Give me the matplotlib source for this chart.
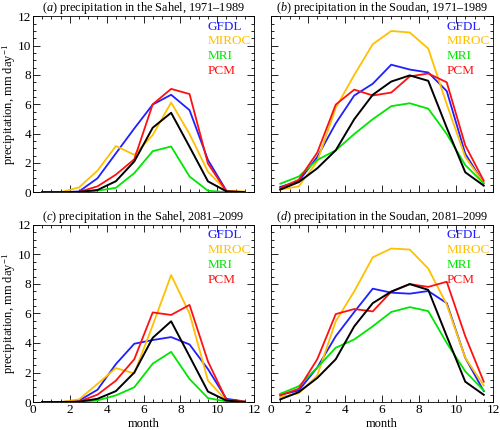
# -*- coding: utf-8 -*-
# curvas_precipitacion.py
import numpy as np
import matplotlib.pyplot as plt
from matplotlib.ticker import MultipleLocator

# --- 1. Datos (mm/día, medias mensuales) ---
meses = [0.5, 1.5, 2.5, 3.5, 4.5, 5.5, 6.5, 7.5, 8.5, 9.5, 10.5, 11.5]
modelos = ['GFDL', 'MIROC', 'MRI', 'PCM']

# (a) Sahel 1971-1989
gfdl_a = [0, 0, 0.05, 0.95, 2.65, 4.35, 5.98, 6.65, 5.6, 2.2, 0.1, 0]
miroc_a = [0, 0, 0.33, 1.47, 3.15, 2.55, 3.9, 6.12, 3.97, 1.4, 0.1, 0.05]
mri_a = [0, 0, 0, 0.1, 0.3, 1.3, 2.8, 3.12, 1.07, 0.1, 0, 0]
pcm_a = [0, 0, 0.02, 0.4, 1.2, 2.25, 6.0, 7.05, 6.7, 1.95, 0.07, 0]
obs_a = [0, 0, 0.02, 0.15, 0.75, 2.1, 4.4, 5.42, 3.1, 0.74, 0.06, 0]

# (b) Soudan 1971-1989
gfdl_b = [0.36, 0.75, 2.4, 4.7, 6.6, 7.4, 8.7, 8.37, 8.17, 6.9, 2.63, 0.6]
miroc_b = [0.18, 0.4, 2.1, 5.76, 8.0, 10.1, 11.0, 10.9, 9.8, 6.0, 2.4, 0.62]
mri_b = [0.58, 1.07, 2.2, 2.86, 3.97, 4.98, 5.87, 6.07, 5.7, 3.97, 1.85, 0.6]
pcm_b = [0.29, 0.85, 2.7, 5.98, 7.0, 6.6, 6.8, 7.9, 8.1, 7.5, 3.2, 0.78]
obs_b = [0.18, 0.69, 1.63, 2.86, 4.98, 6.65, 7.55, 7.97, 7.6, 4.4, 1.36, 0.45]

# (c) Sahel 2081-2099
gfdl_c = [0, 0, 0.1, 0.83, 2.57, 3.95, 4.2, 4.4, 3.9, 2.23, 0.22, 0.04]
miroc_c = [0, 0, 0.18, 1.23, 2.3, 1.94, 5.2, 8.6, 6.0, 1.45, 0.1, 0.03]
mri_c = [0, 0, 0, 0.11, 0.45, 1.0, 2.6, 3.4, 1.56, 0.27, 0.04, 0]
pcm_c = [0, 0, 0.03, 0.5, 1.45, 2.9, 6.07, 5.9, 6.58, 2.75, 0.15, 0.03]
obs_c = [0, 0, 0.02, 0.22, 0.74, 2.0, 4.35, 5.47, 3.1, 0.71, 0.1, 0]

# (d) Soudan 2081-2099
gfdl_d = [0.49, 0.78, 2.34, 4.46, 6.1, 7.68, 7.41, 7.34, 7.52, 6.7, 3.0, 0.74]
miroc_d = [0.33, 0.6, 1.8, 5.47, 7.5, 9.8, 10.4, 10.33, 9.04, 6.6, 3.0, 1.12]
mri_d = [0.56, 1.07, 2.34, 3.68, 4.24, 5.13, 6.1, 6.43, 6.16, 4.0, 2.08, 0.78]
pcm_d = [0.45, 0.9, 2.9, 5.96, 6.3, 6.14, 7.48, 7.99, 7.8, 8.15, 4.46, 1.38]
obs_d = [0.18, 0.67, 1.63, 2.9, 5.13, 6.7, 7.48, 7.99, 7.6, 4.46, 1.38, 0.49]

titulos = [
    r'($\mathit{a}$) precipitation in the Sahel, 1971–1989',
    r'($\mathit{b}$) precipitation in the Soudan, 1971–1989',
    r'($\mathit{c}$) precipitation in the Sahel, 2081–2099',
    r'($\mathit{d}$) precipitation in the Soudan, 2081–2099',
]
colores = ['#1f1fff', '#ffc000', '#00e600', '#ff1010']


def main():
    plt.rcParams['font.family'] = ['Liberation Serif', 'DejaVu Serif']
    plt.rcParams['mathtext.fontset'] = 'custom'
    plt.rcParams['mathtext.rm'] = 'Liberation Serif'
    plt.rcParams['mathtext.it'] = 'Liberation Serif:italic'

    paneles = [
        [gfdl_a, miroc_a, mri_a, pcm_a, obs_a],
        [gfdl_b, miroc_b, mri_b, pcm_b, obs_b],
        [gfdl_c, miroc_c, mri_c, pcm_c, obs_c],
        [gfdl_d, miroc_d, mri_d, pcm_d, obs_d],
    ]

    fig = plt.figure(figsize=(5, 4.3), dpi=100)
    # posiciones [izq, abajo, ancho, alto] en fracción de figura
    cajas = [
        [0.066, 0.553, 0.442, 0.409],
        [0.542, 0.553, 0.444, 0.409],
        [0.066, 0.065, 0.442, 0.412],
        [0.542, 0.065, 0.444, 0.412],
    ]

    # --- 2. Bucle de paneles ---
    for i, (caja, series, titulo) in enumerate(zip(cajas, paneles, titulos)):
        ax = fig.add_axes(caja)
        for serie, color in zip(series[:4], colores):
            ax.plot(meses, serie, color=color, lw=1.3)
        ax.plot(meses, series[4], color='black', lw=1.4)

        for k, (nombre, color) in enumerate(zip(modelos, colores)):
            ax.text(9.5, 11.3 - k * 1.0, nombre, color=color, fontsize=9.5,
                    va='center', ha='left')

        ax.set_xlim(0, 12)
        ax.set_ylim(0, 12)
        ax.xaxis.set_major_locator(MultipleLocator(2))
        ax.xaxis.set_minor_locator(MultipleLocator(0.5))
        ax.yaxis.set_major_locator(MultipleLocator(2))
        ax.yaxis.set_minor_locator(MultipleLocator(0.5))
        ax.tick_params(which='both', direction='in', top=True, right=True,
                       labelsize=9.5, pad=1.5, width=0.6)
        ax.tick_params(which='major', length=5)
        ax.tick_params(which='minor', length=2.5)
        for lado in ax.spines.values():
            lado.set_linewidth(0.6)

        ax.set_title(titulo, fontsize=8.8, pad=0)
        if i % 2 == 0:
            ax.set_ylabel('precipitation, mm day$^{-1}$', fontsize=9)
            ax.yaxis.set_label_coords(-0.068, 0.5)
        else:
            ax.tick_params(labelleft=False)
        if i < 2:
            ax.tick_params(labelbottom=False)
        else:
            ax.set_xlabel('month', fontsize=9, va='baseline')
            ax.xaxis.set_label_coords(0.5, -0.14)

    fig.savefig('out.png', dpi=100)


if __name__ == "__main__":
    main()
